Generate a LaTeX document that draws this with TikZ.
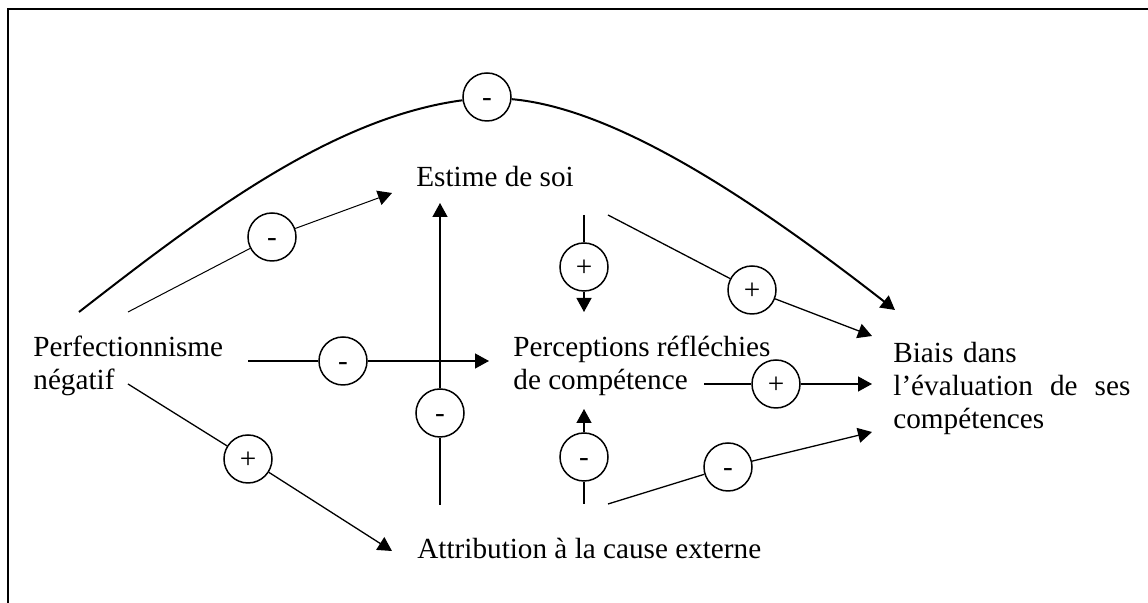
\documentclass[tikz,border=0pt]{standalone}
\usepackage{fontspec}
\setmainfont{Liberation Serif}
\usetikzlibrary{arrows.meta}

\begin{document}
\begin{tikzpicture}[
  x=0.5pt,y=-0.5pt,
  lbl/.style={anchor=base west,inner sep=0pt,align=left,font=\fontsize{14.6}{16.5}\selectfont},
  sign/.style={draw,circle,line width=0.75pt,minimum size=24pt,inner sep=0pt,text height=12.5pt,text depth=3pt,font=\fontsize{14.6}{16.5}\selectfont},
  arr/.style={line width=0.65pt,-{Triangle[length=7pt,width=7.5pt]}},
  bow/.style={arr,line width=1pt},
  frame/.style={line width=0.75pt}
]
\useasboundingbox (0,0) rectangle (1148,603);
\draw[frame] (8,603) -- (8,9) -- (1148,9);

\node[lbl] (perf) at (33,390) {Perfectionnisme\\négatif};
\node[lbl] (estime) at (416,187) {Estime de soi};
\node[lbl] (percep) at (513,390) {Perceptions réfléchies\\de compétence};
\node[lbl,text width=118.5pt] (biais) at (893,363) {Biais dans\\l’évaluation\hfill de\hfill ses\\compétences};
\node[lbl] (attrib) at (417,559) {Attribution à la cause externe};

\node[sign] (s1) at (487,97) {-};
\node[sign] (s2) at (272,237) {-};
\node[sign] (s3) at (343,361) {-};
\node[sign] (s4) at (440,413) {-};
\node[sign] (s5) at (248,459) {+};
\node[sign] (s6) at (584,267) {+};
\node[sign] (s7) at (752,290) {+};
\node[sign] (s8) at (776,384) {+};
\node[sign] (s9) at (584,457) {-};
\node[sign] (s10) at (728,467) {-};

\coordinate (arcbeg) at (79,312);
\coordinate (arcend) at (895,310);
\coordinate (b0) at (128,312);
\coordinate (b1) at (392,193);
\coordinate (c0) at (248,361);
\coordinate (c1) at (489,361);
\coordinate (d0) at (128,384);
\coordinate (d1) at (392,551);
\coordinate (e0) at (440,505);
\coordinate (e1) at (440,203);
\coordinate (f0) at (584,215);
\coordinate (f1) at (584,312);
\coordinate (g0) at (608,215);
\coordinate (g1) at (872,336);
\coordinate (h0) at (704,384);
\coordinate (h1) at (872,384);
\coordinate (i0) at (584,504);
\coordinate (i1) at (584,409);
\coordinate (j0) at (608,504);
\coordinate (j1) at (872,432);

\draw[bow] (arcbeg) .. controls (200,218) and (330,118) .. (s1) .. controls (612,108) and (745,193) .. (arcend);
\draw[arr,line width=0.5pt] (b0) -- (s2) -- (b1);
\draw[arr] (c0) -- (s3) -- (c1);
\draw[arr] (d0) -- (s5) -- (d1);
\draw[arr] (e0) -- (s4) -- (e1);
\draw[arr] (f0) -- (s6) -- (f1);
\draw[arr] (g0) -- (s7) -- (g1);
\draw[arr] (h0) -- (s8) -- (h1);
\draw[arr] (i0) -- (s9) -- (i1);
\draw[arr] (j0) -- (s10) -- (j1);
\end{tikzpicture}
\end{document}
